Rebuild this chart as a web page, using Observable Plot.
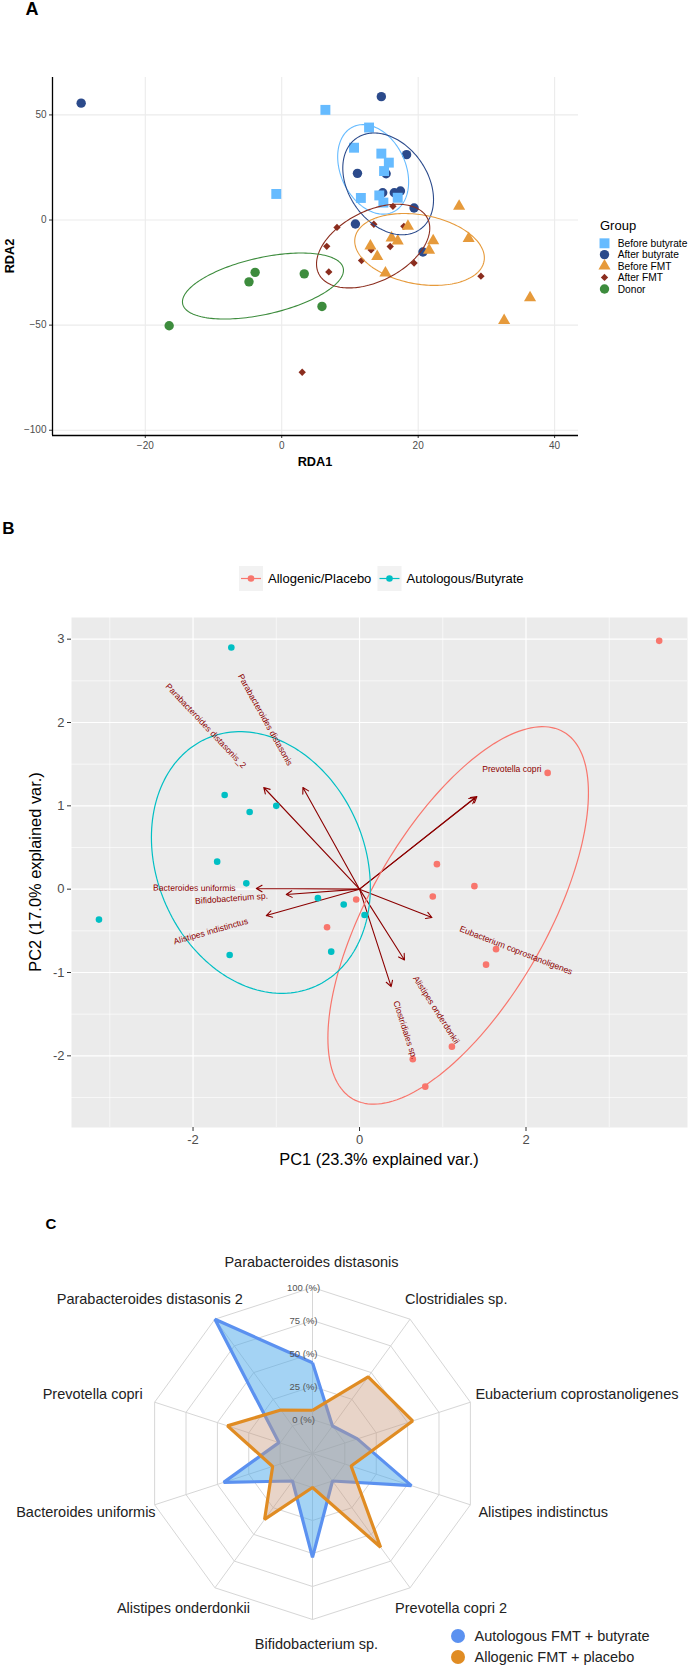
<!DOCTYPE html>
<html>
<head>
<meta charset="utf-8">
<script src="https://cdn.jsdelivr.net/npm/d3@7"></script>
<script src="https://cdn.jsdelivr.net/npm/@observablehq/plot@0.6"></script>
<style>
  html, body { margin: 0; padding: 0; background: #fff; }
  #root { position: relative; width: 694px; height: 1667px; overflow: hidden; font-family: "Liberation Sans", Arial, sans-serif; }
  #root > svg { position: absolute; left: 0; }
</style>
</head>
<body>
<div id="root"></div>
<script>
// ======================= DATA =======================
// ---- Panel A (RDA) ----
const groupNamesA = ["Before butyrate", "After butyrate", "Before FMT", "After FMT", "Donor"];
const rda1BeforeButyrate = [6.4, 12.8, 10.6, 14.6, 15.7, 15.0, -0.8, 11.6, 14.3, 14.9, 17.0];
const rda2BeforeButyrate = [52.4, 44.0, 34.4, 31.6, 27.3, 23.3, 12.4, 10.5, 11.7, 8.3, 10.6];
const rda1AfterButyrate = [-29.4, 14.6, 18.3, 11.1, 15.3, 14.8, 16.5, 17.4, 19.4, 10.8, 20.7];
const rda2AfterButyrate = [55.6, 58.7, 31.1, 22.2, 22.0, 13.0, 13.0, 13.8, 5.7, -1.9, -15.2];
const rda1BeforeFMT = [26.0, 18.5, 16.1, 17.0, 22.2, 27.4, 13.0, 14.0, 21.6, 15.2, 36.4, 32.6];
const rda2BeforeFMT = [6.5, -3.0, -8.6, -10.0, -9.9, -8.8, -12.3, -17.4, -14.4, -25.2, -37.0, -47.8];
const rda1AfterFMT = [16.3, 8.1, 13.5, 17.9, 6.6, 15.9, 11.7, 19.4, 6.9, 29.2, 3.0, 13.1];
const rda2AfterFMT = [6.5, -3.5, -2.0, -3.0, -12.5, -12.6, -19.3, -20.5, -24.7, -26.7, -72.4, -14.2];
const rda1Donor = [-16.5, -4.8, -3.9, 3.3, 5.9];
const rda2Donor = [-50.3, -29.4, -24.9, -25.6, -41.1];
// ellipses: centre, half-width (RDA1), half-height (RDA2), RDA2 offset of widest point
const ellCxA = [13.4, 15.6, 20.2, 13.4, -2.75];
const ellCyA = [24.1, 17.2, -14.0, -12.4, -31.4];
const ellWA = [5.2, 6.65, 9.5, 8.3, 11.8];
const ellHA = [21.3, 24.2, 17.1, 19.9, 15.7];
const ellKA = [-6.0, -7.5, -4.0, 8.5, 7.5];
const ticksXA = [-20, 0, 20, 40];
const ticksYA = [-100, -50, 0, 50];

// ---- Panel B (PCA biplot) ----
const groupNamesB = ["Allogenic/Placebo", "Autologous/Butyrate"];
const pc1Allogenic = [3.60, 2.26, 0.93, 1.38, 0.88, -0.04, -0.39, 1.64, 1.52, 1.11, 0.64, 0.79];
const pc2Allogenic = [2.98, 1.395, 0.30, 0.036, -0.088, -0.124, -0.457, -0.72, -0.906, -1.89, -2.04, -2.37];
const pc1Autologous = [-1.54, -1.62, -1.32, -1.00, -1.71, -1.36, -3.13, -0.50, -0.19, 0.06, -1.56, -0.34];
const pc2Autologous = [2.90, 1.13, 0.926, 1.0, 0.33, 0.07, -0.365, -0.108, -0.184, -0.31, -0.79, -0.75];
const ellCxB = [1.185, -1.185];
const ellCyB = [-0.315, 0.32];
const ellWB = [1.565, 1.315];
const ellHB = [2.265, 1.57];
const ellKB = [1.47, -0.30];
const loadingNames = ["Parabacteroides distasonis", "Parabacteroides distasonis_2", "Bacteroides uniformis",
  "Bifidobacterium sp.", "Alistipes indistinctus", "Prevotella copri", "Prevotella copri 2",
  "Eubacterium coprostanoligenes", "Alistipes onderdonkii", "Clostridiales sp."];
const loadingPC1 = [-0.68, -1.15, -1.24, -0.88, -1.12, 1.41, 1.39, 0.87, 0.54, 0.38];
const loadingPC2 = [1.22, 1.22, 0.008, -0.064, -0.317, 1.11, 1.10, -0.34, -0.85, -1.17];
const hiddenLabels = ["Prevotella copri 2"];
const flatLabels = ["Prevotella copri"];
const ticksXB = [-2, 0, 2];
const ticksYB = [-2, -1, 0, 1, 2, 3];

// ---- Panel C (radar) ----
const radarAxes = ["Parabacteroides distasonis", "Clostridiales sp.", "Eubacterium coprostanoligenes",
  "Alistipes indistinctus", "Prevotella copri 2", "Bifidobacterium sp.", "Alistipes onderdonkii",
  "Bacteroides uniformis", "Prevotella copri", "Parabacteroides distasonis 2"];
const autologousPct = [43, 0, 10, 53, 0, 53, 0, 45, 1, 100];
const allogenicPct = [7, 46, 54, 5, 62, 0, 36, 6, 42, 15];
const gridLevels = [0, 25, 50, 75, 100];
const seriesC = ["Autologous FMT + butyrate", "Allogenic FMT + placebo"];

// ======================= STYLE / LAYOUT =======================
const FONT = "'Liberation Sans', Arial, sans-serif";
const colorsA = ["#66BBFF", "#2B4A8B", "#E69A3B", "#8B2D1E", "#3D8C3D"];
const symbolsA = ["square", "circle", "triangle", "diamond2", "circle"];
const radiiA = [5.6, 4.7, 4.5, 3.3, 4.7];
const colorsB = ["#F8766D", "#00BFC4"];
const strokeC = ["#5B91F0", "#E08C23"];
const fillC = ["#4AA8EA", "rgb(200,152,124)"];
const fillOpC = [0.5, 0.42];
// horizontal nudge (px) of each radar axis label away from its spoke end
const radarLabelNudge = [-1, -5, 5, 8, -15, 4, 35, 1, -12, 28];

const root = d3.select("#root");
function place(svg, top) { svg.style.top = top + "px"; root.node().appendChild(svg); }

function ellipse(cx, cy, w, h, k, group) {
  const vy = Math.sqrt(Math.max(h * h - k * k, 0));
  return d3.range(181).map(i => {
    const t = 2 * Math.PI * i / 180;
    return {x: cx + w * Math.cos(t), y: cy + k * Math.cos(t) + vy * Math.sin(t), group};
  });
}

// ======================= PANEL A =======================
const xsA = [rda1BeforeButyrate, rda1AfterButyrate, rda1BeforeFMT, rda1AfterFMT, rda1Donor];
const ysA = [rda2BeforeButyrate, rda2AfterButyrate, rda2BeforeFMT, rda2AfterFMT, rda2Donor];
const pointsA = groupNamesA.map((g, gi) => xsA[gi].map((x, j) => ({x, y: ysA[gi][j], group: g})));
const ellA = groupNamesA.flatMap((g, gi) => ellipse(ellCxA[gi], ellCyA[gi], ellWA[gi], ellHA[gi], ellKA[gi], g));
const drawOrderA = [1, 0, 3, 2, 4];

const plotA = Plot.plot({
  width: 694, height: 470,
  marginLeft: 52, marginRight: 116, marginTop: 77, marginBottom: 35,
  x: {domain: [-33.6, 43.5]},
  y: {domain: [-102.5, 67.8]},
  color: {domain: groupNamesA, range: colorsA},
  style: {fontFamily: FONT, background: "transparent", overflow: "visible"},
  marks: [
    Plot.gridX(ticksXA, {stroke: "#EBEBEB", strokeOpacity: 1, strokeWidth: 1.1}),
    Plot.gridY(ticksYA, {stroke: "#EBEBEB", strokeOpacity: 1, strokeWidth: 1.1}),
    Plot.axisX(ticksXA, {tickSize: 3, tickPadding: 3, fontSize: 10, stroke: "#333", fill: "#4D4D4D", label: null}),
    Plot.axisY(ticksYA, {tickSize: 3, tickPadding: 3, fontSize: 10, stroke: "#333", fill: "#4D4D4D", label: null}),
    Plot.ruleX([-33.6], {stroke: "#000", strokeWidth: 1.3}),
    Plot.ruleY([-102.5], {stroke: "#000", strokeWidth: 1.3}),
    ...drawOrderA.map(gi => Plot.dot(pointsA[gi], {x: "x", y: "y", fill: "group", symbol: () => symbolsA[gi], r: radiiA[gi], stroke: null})),
    Plot.line(ellA, {x: "x", y: "y", z: "group", stroke: "group", strokeWidth: 1.1})
  ]
});
place(plotA, 0);

// ======================= PANEL B =======================
const pointsB = [
  ...pc1Allogenic.map((x, i) => ({x, y: pc2Allogenic[i], group: groupNamesB[0]})),
  ...pc1Autologous.map((x, i) => ({x, y: pc2Autologous[i], group: groupNamesB[1]}))
];
const ellB = groupNamesB.flatMap((g, gi) => ellipse(ellCxB[gi], ellCyB[gi], ellWB[gi], ellHB[gi], ellKB[gi], g));
const arrowsB = loadingNames.map((name, i) => ({name, x: loadingPC1[i], y: loadingPC2[i]}));

const xDomB = [-3.46, 3.94], yDomB = [-2.86, 3.26];
const pxPerUnitB = (694 - 71 - 7) / (xDomB[1] - xDomB[0]);
const labelFontB = 8.6, varnameAdjust = 1.5;
const ctx = document.createElement("canvas").getContext("2d");
ctx.font = `${labelFontB}px 'Liberation Sans'`;
const labelsB = arrowsB.filter(d => !hiddenLabels.includes(d.name)).map(d => {
  const len = Math.hypot(d.x, d.y);
  const wUnits = ctx.measureText(d.name).width / pxPerUnitB;
  const off = varnameAdjust / 2 * wUnits;
  const ang = flatLabels.includes(d.name) ? 0 : Math.atan(d.y / d.x) * 180 / Math.PI;
  return {name: d.name, x: d.x + off * d.x / len, y: d.y + off * d.y / len, rotate: -ang};
});

const plotB = Plot.plot({
  width: 694, height: 580,
  marginLeft: 71, marginRight: 7, marginTop: 17, marginBottom: 53,
  x: {domain: xDomB},
  y: {domain: yDomB},
  color: {domain: groupNamesB, range: colorsB},
  style: {fontFamily: FONT, background: "transparent", overflow: "visible"},
  marks: [
    Plot.frame({fill: "#EBEBEB", stroke: null}),
    Plot.gridX([-3, -1, 1, 3], {stroke: "#fff", strokeOpacity: 1, strokeWidth: 0.6}),
    Plot.gridY([-2.5, -1.5, -0.5, 0.5, 1.5, 2.5], {stroke: "#fff", strokeOpacity: 1, strokeWidth: 0.6}),
    Plot.gridX(ticksXB, {stroke: "#fff", strokeOpacity: 1, strokeWidth: 1.2}),
    Plot.gridY(ticksYB, {stroke: "#fff", strokeOpacity: 1, strokeWidth: 1.2}),
    Plot.axisX(ticksXB, {tickSize: 4, tickPadding: 3, fontSize: 13, stroke: "#333", fill: "#4D4D4D", tickFormat: d => String(d), label: null}),
    Plot.axisY(ticksYB, {tickSize: 4, tickPadding: 3, fontSize: 13, stroke: "#333", fill: "#4D4D4D", tickFormat: d => String(d), label: null}),
    Plot.arrow(arrowsB, {x1: () => 0, y1: () => 0, x2: "x", y2: "y", stroke: "#8B0000", strokeWidth: 1.1, headLength: 9, headAngle: 60}),
    Plot.dot(pointsB, {x: "x", y: "y", fill: "group", r: 3.3, stroke: null}),
    Plot.line(ellB, {x: "x", y: "y", z: "group", stroke: "group", strokeWidth: 1.2}),
    Plot.text(labelsB, {x: "x", y: "y", text: "name", rotate: "rotate", fill: "#8B0000", fontSize: labelFontB, textAnchor: "middle"})
  ]
});
place(plotB, 600);

// ======================= PANEL C =======================
const R_OUT = 166, R_IN = 34;
const rad = v => R_IN + (R_OUT - R_IN) * v / 100;
const angC = i => i * 2 * Math.PI / radarAxes.length;
const polar = (i, v) => ({x: rad(v) * Math.sin(angC(i)), y: rad(v) * Math.cos(angC(i))});
const closedIdx = d3.range(radarAxes.length + 1).map(i => i % radarAxes.length);
const ringPts = gridLevels.flatMap(l => closedIdx.map(i => ({...polar(i, l), level: l})));
const seriesPts = [autologousPct, allogenicPct].map(vals => closedIdx.map(i => polar(i, vals[i])));
const axisLabelPts = radarAxes.map((name, i) => {
  const s = Math.sin(angC(i)), c = Math.cos(angC(i));
  const side = Math.abs(s) < 0.1 ? "middle" : (s > 0 ? "start" : "end");
  return {name, side, x: R_OUT * s + radarLabelNudge[i], y: R_OUT * 1.15 * c};
});

const plotC = Plot.plot({
  width: 694, height: 467, margin: 0,
  x: {domain: [-312, 382], axis: null},
  y: {domain: [-214, 253], axis: null},
  style: {fontFamily: FONT, background: "transparent", overflow: "visible"},
  marks: [
    Plot.link(radarAxes.map((d, i) => i), {x1: () => 0, y1: () => 0, x2: i => polar(i, 100).x, y2: i => polar(i, 100).y, stroke: "#D6D6D6", strokeWidth: 1}),
    Plot.line(ringPts, {x: "x", y: "y", z: "level", stroke: "#D6D6D6", strokeWidth: 1}),
    ...seriesPts.map((pts, si) => Plot.line(pts, {x: "x", y: "y", fill: fillC[si], fillOpacity: fillOpC[si], stroke: strokeC[si], strokeWidth: 3.2, strokeLinejoin: "miter", strokeLinecap: "butt"})),
    Plot.text(gridLevels, {x: () => -9, y: l => rad(l), text: l => `${l} (%)`, fontSize: 9.5, fill: "#555"}),
    ...["start", "end", "middle"].map(side => Plot.text(axisLabelPts.filter(d => d.side === side), {x: "x", y: "y", text: "name", textAnchor: side, fontSize: 14.5, fill: "#222"}))
  ]
});
place(plotC, 1200);

// ======================= TITLES & LEGENDS =======================
const ov = root.append("svg").attr("width", 694).attr("height", 1667).style("top", "0px")
  .style("pointer-events", "none").style("font-family", FONT);
function txt(x, y, s, {size = 12, weight = "normal", anchor = "start", fill = "#000", rotate = 0} = {}) {
  ov.append("text").attr("transform", `translate(${x},${y}) rotate(${rotate})`)
    .attr("text-anchor", anchor).attr("dominant-baseline", "central")
    .attr("font-size", size).attr("font-weight", weight).attr("fill", fill).text(s);
}
// Panel letters
txt(32, 9, "A", {size: 18, weight: "bold", anchor: "middle"});
txt(8.5, 528, "B", {size: 17, weight: "bold", anchor: "middle"});
txt(51, 1223, "C", {size: 15, weight: "bold", anchor: "middle"});

// Panel A axis titles
txt(315, 461, "RDA1", {size: 12.75, weight: "bold", anchor: "middle"});
txt(9, 256, "RDA2", {size: 12.75, weight: "bold", anchor: "middle", rotate: -90});
// Panel A legend
txt(600, 225, "Group", {size: 13});
const legYA = [243.3, 254.6, 266, 277.4, 289];
const d3sym = {square: d3.symbolSquare, circle: d3.symbolCircle, triangle: d3.symbolTriangle, diamond2: d3.symbolDiamond2};
groupNamesA.forEach((g, i) => {
  ov.append("path").attr("transform", `translate(604.5,${legYA[i]})`)
    .attr("d", d3.symbol(d3sym[symbolsA[i]], Math.PI * radiiA[i] * radiiA[i])()).attr("fill", colorsA[i]);
  txt(617.7, legYA[i], g, {size: 10.2});
});

// Panel B legend
const legXB = [251, 389.5];
groupNamesB.forEach((g, i) => {
  const cx = legXB[i];
  ov.append("rect").attr("x", cx - 12).attr("y", 566).attr("width", 24).attr("height", 25).attr("fill", "#F2F2F2");
  ov.append("line").attr("x1", cx - 10).attr("x2", cx + 10).attr("y1", 578.5).attr("y2", 578.5).attr("stroke", colorsB[i]).attr("stroke-width", 1.2);
  ov.append("circle").attr("cx", cx).attr("cy", 578.5).attr("r", 3.3).attr("fill", colorsB[i]);
  txt(cx + 17, 578.5, g, {size: 13});
});
// Panel B axis titles
txt(379, 1159, "PC1 (23.3% explained var.)", {size: 16.4, anchor: "middle"});
txt(35, 872, "PC2 (17.0% explained var.)", {size: 16.4, anchor: "middle", rotate: -90});

// Panel C legend
const legYC = [1636, 1657];
seriesC.forEach((s, i) => {
  ov.append("circle").attr("cx", 458).attr("cy", legYC[i]).attr("r", 7).attr("fill", strokeC[i]);
  txt(474.5, legYC[i], s, {size: 14.5, fill: "#222"});
});
</script>
</body>
</html>
